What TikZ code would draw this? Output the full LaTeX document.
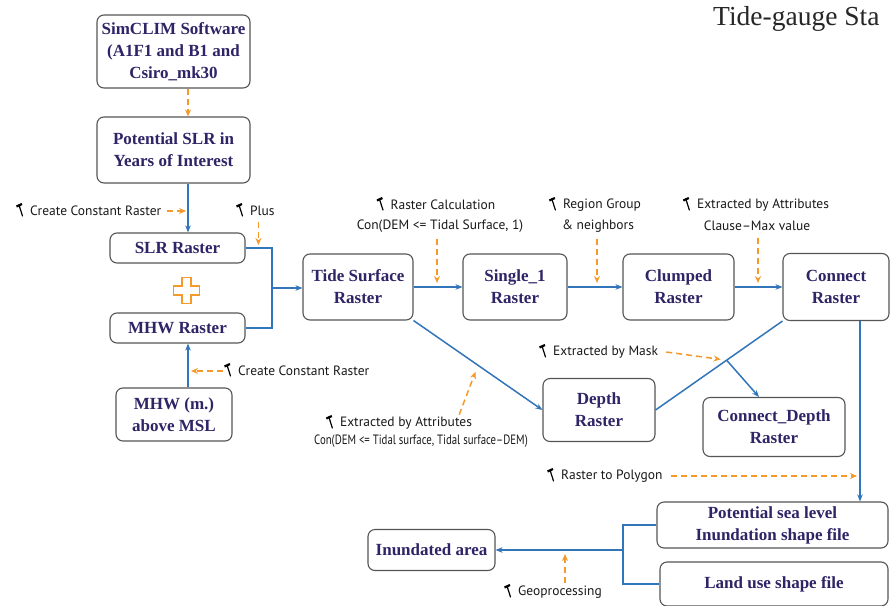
\documentclass[tikz,border=0pt]{standalone}
\usepackage{fontspec}
\setmainfont{Liberation Serif}
\newfontfamily\labfont[Ligatures=TeX]{PT Sans}
\usetikzlibrary{arrows.meta,calc}
\definecolor{navy}{HTML}{2E2466}
\definecolor{myblue}{HTML}{3375B9}
\definecolor{myorange}{HTML}{F39A2B}
\definecolor{boxgray}{HTML}{555555}
\begin{document}
\begin{tikzpicture}[x=1pt,y=-1pt,
  box/.style={draw=boxgray, line width=1.1pt, rounded corners=7pt, fill=white, align=center,
    text=navy, font=\fontsize{17}{22}\selectfont\bfseries, inner sep=0pt},
  lab/.style={font=\labfont\fontsize{13.5}{15}\selectfont, text=black!90, inner sep=0pt},
  blueline/.style={draw=myblue, line width=1.5pt},
  bluearrow/.style={blueline, -{Stealth[length=7pt,width=5.5pt]}},
  orarrow/.style={draw=myorange, line width=1.5pt, dash pattern=on 6pt off 4pt, -{Stealth[length=7pt,width=6pt]}},
  hammer/.pic={\draw[line width=1.2pt, line cap=round] (0,0) -- (3.5,11);
               \draw[line width=2.2pt] (-2.5,1.5) -- (3,-1);}
]
\clip (0,0) rectangle (891,605);
\fill[white] (0,0) rectangle (891,605);

% title fragment
\node[anchor=base west, font=\fontsize{27.5}{30}\selectfont, text=black!85, inner sep=0pt] (tg) at (713,25) {Tide-gauge Sta};

% boxes
\node[box, minimum width=153pt, minimum height=73pt] (sim) at (173.5,51.5) {SimCLIM Software\\(A1F1 and B1 and\\Csiro\_mk30};
\node[box, minimum width=153pt, minimum height=66pt] (pot) at (173.5,150) {Potential SLR in\\Years of Interest};
\node[box, minimum width=135pt, minimum height=30pt] (slr) at (177.5,248) {SLR Raster};
\node[box, minimum width=135pt, minimum height=30pt] (mhw) at (177.5,328) {MHW Raster};
\node[box, minimum width=116pt, minimum height=53pt] (msl) at (174,414.5) {MHW (m.)\\above MSL};
\node[box, minimum width=110pt, minimum height=66pt] (tide) at (358,287) {Tide Surface\\Raster};
\node[box, minimum width=104pt, minimum height=66pt] (single) at (515,287) {Single\_1\\Raster};
\node[box, minimum width=111pt, minimum height=66pt] (clump) at (678.5,287) {Clumped\\Raster};
\node[box, minimum width=106pt, minimum height=67pt] (conn) at (836,287) {Connect\\Raster};
\node[box, minimum width=112pt, minimum height=63pt] (depth) at (599,410) {Depth\\Raster};
\node[box, minimum width=142pt, minimum height=59pt] (cdepth) at (774,427) {Connect\_Depth\\Raster};
\node[box, minimum width=231pt, minimum height=46pt] (psl) at (772.5,525) {Potential sea level\\Inundation shape file};
\node[box, minimum width=228pt, minimum height=44pt] (land) at (774,584) {Land use shape file};
\node[box, minimum width=127pt, minimum height=41pt] (inund) at (431.5,550) {Inundated area};

% plus sign
\draw[myorange, line width=1.8pt, fill=white] (186.5,290.5) ++(-4.5,-13) -- ++(9,0) -- ++(0,8.5) -- ++(8.5,0) -- ++(0,9) -- ++(-8.5,0) -- ++(0,8.5) -- ++(-9,0) -- ++(0,-8.5) -- ++(-8.5,0) -- ++(0,-9) -- ++(8.5,0) -- cycle;

% left column
\coordinate (vl) at ([xshift=14.5pt]pot.south);
\draw[orarrow] (vl |- sim.south) -- (vl |- pot.north);
\draw[bluearrow] (vl) -- (vl |- slr.north);
\node[lab, anchor=west] (l1) at (30,211) {Create Constant Raster};
\pic at ([xshift=-11pt,yshift=6pt]l1.west) {hammer};
\draw[orarrow] ([xshift=6pt]l1.east) -- ([xshift=-2pt]l1.east -| vl);

\node[lab, anchor=west] (l2) at (250,211) {Plus};
\pic at ([xshift=-11pt,yshift=6pt]l2.west) {hammer};
\draw[orarrow] ([xshift=-4pt,yshift=-6pt]l2.south) -- ([xshift=-4pt,yshift=3pt]l2.south |- slr.east);

\coordinate (j1) at (272,288);
\draw[blueline] (slr.east) -| (j1) |- (mhw.east);
\draw[bluearrow] (j1) -- (j1 -| tide.west);

\draw[bluearrow] (msl.north -| vl) -- (mhw.south -| vl);
\node[lab, anchor=west] (l3) at (238,371) {Create Constant Raster};
\pic at ([xshift=-11pt,yshift=6pt]l3.west) {hammer};
\draw[orarrow] ([xshift=-15pt]l3.west) -- ([xshift=3pt]l3.west -| vl);

% top row
\draw[bluearrow] (tide.east) -- (single.west);
\draw[bluearrow] (single.east) -- (clump.west);
\draw[bluearrow] (clump.east) -- (conn.west);

\node[lab] (l4a) at (443,205) {Raster Calculation};
\node[lab] (l4b) at (440,226) {Con(DEM <= Tidal Surface, 1)};
\pic at ([xshift=-11pt,yshift=6pt]l4a.west) {hammer};
\draw[orarrow] ([xshift=-3pt,yshift=-7pt]l4b.south) -- ([xshift=-3pt,yshift=4pt]l4b.south |- single.west);

\node[lab] (l5a) at (602,205) {Region Group};
\node[lab] (l5b) at (598,226) {\& neighbors};
\pic at ([xshift=-11pt,yshift=6pt]l5a.west) {hammer};
\draw[orarrow] ([xshift=-1pt,yshift=-7pt]l5b.south) -- ([xshift=-1pt,yshift=4pt]l5b.south |- clump.west);

\node[lab] (l6a) at (763,205) {Extracted by Attributes};
\node[lab] (l6b) at (757,226) {Clause--Max value};
\pic at ([xshift=-11pt,yshift=6pt]l6a.west) {hammer};
\draw[orarrow] ([xshift=1pt,yshift=-7pt]l6b.south) -- ([xshift=1pt,yshift=4pt]l6b.south |- conn.west);

% depth
\draw[bluearrow] (tide.south east) -- (depth.west);
\coordinate (mid1) at ($(tide.south east)!0.5!(depth.west)$);
\node[lab] (l7a) at (406,423) {Extracted by Attributes};
\node[lab] (l7b) at (421,441) {\scalebox{0.8}[1]{Con(DEM <= Tidal surface, Tidal surface--DEM)}};
\pic at ([xshift=-11pt,yshift=6pt]l7a.west) {hammer};
\draw[orarrow, shorten >=7pt] ([xshift=-13pt,yshift=2pt]l7a.north east) -- (mid1);

\draw[blueline] (depth.east) -- (conn.south west) coordinate[pos=0.56] (cross);
\draw[bluearrow] (cross) -- ([xshift=-15pt]cdepth.north);
\node[lab, anchor=west] (l8) at (553,352) {Extracted by Mask};
\pic at ([xshift=-11pt,yshift=6pt]l8.west) {hammer};
\draw[orarrow, shorten >=6pt] ([xshift=8pt]l8.east) -- (cross);

% right column
\coordinate (vr) at ([xshift=24pt]conn.south);
\draw[bluearrow] (vr) -- (vr |- psl.north);
\node[lab, anchor=west] (l9) at (561,476) {Raster to Polygon};
\pic at ([xshift=-11pt,yshift=6pt]l9.west) {hammer};
\draw[orarrow] ([xshift=8pt]l9.east) -- ([xshift=-3pt]l9.east -| vr);

% bottom
\coordinate (j2) at (623,550);
\draw[blueline] (psl.west) -| (j2) |- (land.west);
\draw[bluearrow] (j2) -- (inund.east);
\node[lab, anchor=west] (l10) at (518,592) {Geoprocessing};
\pic at ([xshift=-11pt,yshift=6pt]l10.west) {hammer};
\draw[orarrow] ([xshift=5pt,yshift=3pt]l10.north) -- ([xshift=5pt,yshift=-4pt]l10.north |- j2);
\end{tikzpicture}
\end{document}
